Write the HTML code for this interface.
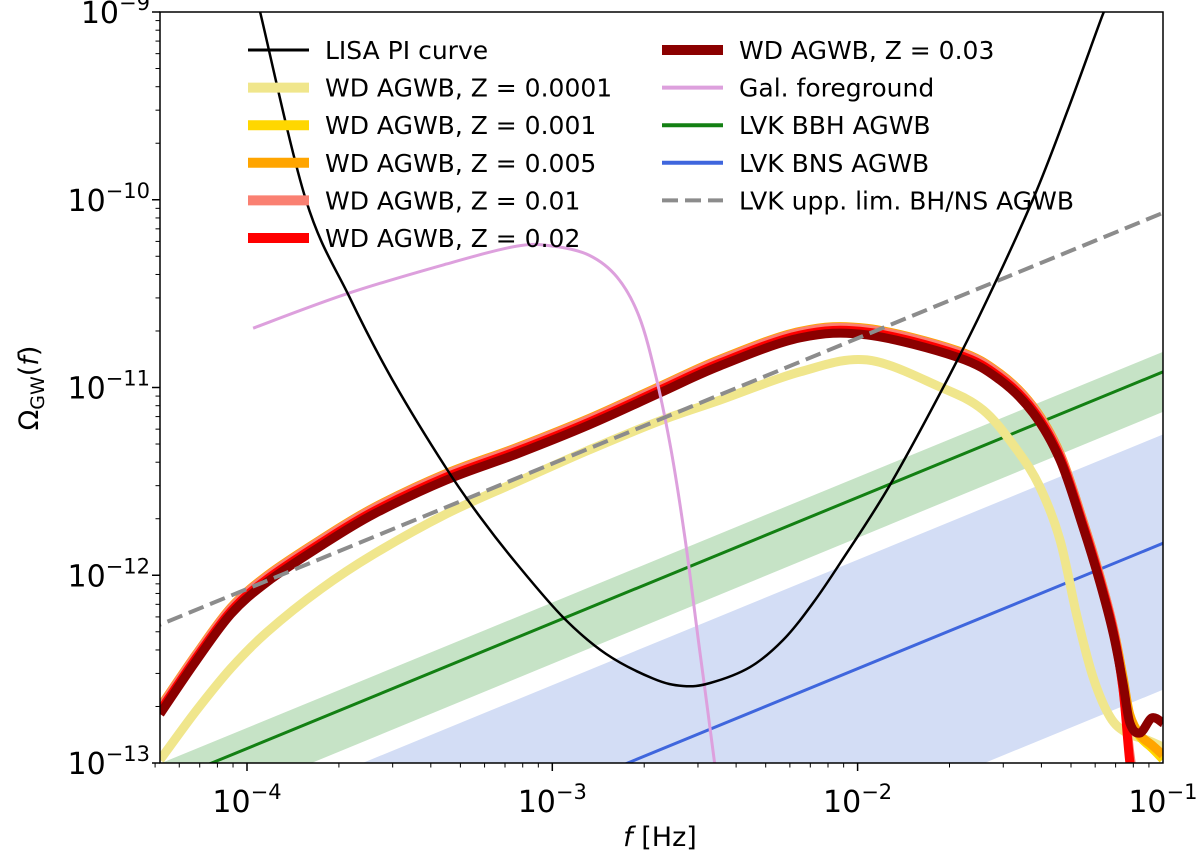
<!DOCTYPE html>
<html><head><meta charset="utf-8"><style>
html,body{margin:0;background:#fff;overflow:hidden;width:1200px;height:858px;}
svg{display:block;}
svg text{font-family:"DejaVu Sans","Liberation Sans",sans-serif;}
</style></head><body>
<svg id="chart" width="1200" height="858" viewBox="0 0 1200 858" xmlns="http://www.w3.org/2000/svg" overflow="hidden">
<defs><clipPath id="clip"><rect x="160" y="12" width="1003" height="751"/></clipPath></defs>
<g id="bands" clip-path="url(#clip)"></g>
<g id="series" clip-path="url(#clip)"></g>
<g id="axes"></g>
<g id="legend"></g>
</svg>
<script>
// data (log10 values)
const wdF = [-4.285,-4.167,-4.052,-3.934,-3.758,-3.584,-3.348,-3.116,-2.88,-2.648,-2.451,-2.189,-1.969,-1.674,-1.534,-1.425,-1.337,-1.262,-1.206,-1.163,-1.131,-1.108,-1.075,-1.036,-1.0];
const wdZ003 = [-12.739,-12.457,-12.206,-12.036,-11.844,-11.674,-11.493,-11.354,-11.2,-11.029,-10.885,-10.736,-10.72,-10.838,-10.96,-11.136,-11.386,-11.743,-12.041,-12.308,-12.574,-12.787,-12.84,-12.76,-12.787];
const wdZ0005 = [-12.704,-12.422,-12.171,-12.001,-11.809,-11.639,-11.458,-11.319,-11.165,-10.994,-10.85,-10.701,-10.685,-10.803,-10.925,-11.101,-11.351,-11.708,-12.006,-12.273,-12.539,-12.744,-12.851,-12.904,-12.957];
const wdZ001 = [-12.714,-12.432,-12.181,-12.011,-11.819,-11.649,-11.468,-11.329,-11.175,-11.004,-10.86,-10.711,-10.695,-10.813,-10.935,-11.111,-11.361,-11.718,-12.016,-12.283,-12.549,-12.76,-12.86,-12.92,-12.98];
const wdZ01 = [-12.709,-12.427,-12.176,-12.006,-11.814,-11.644,-11.463,-11.324,-11.17,-10.999,-10.855,-10.706,-10.69,-10.808,-10.93,-11.106,-11.356,-11.713,-12.011,-12.278,-12.6,-12.95,-13.3,-13.6,-13.9];
const wdZ02 = [-12.724,-12.442,-12.191,-12.021,-11.829,-11.659,-11.478,-11.339,-11.185,-11.014,-10.87,-10.721,-10.705,-10.823,-10.945,-11.121,-11.371,-11.728,-12.026,-12.293,-12.6,-13.0,-13.4,-13.7,-14.0];
const wdF0001 = [-4.285,-4.167,-4.052,-3.934,-3.758,-3.584,-3.348,-3.116,-2.88,-2.648,-2.451,-2.189,-1.969,-1.73,-1.589,-1.478,-1.403,-1.337,-1.281,-1.229,-1.173,-1.118,-1.052,-1.0];
const wdZ0001 = [-12.984,-12.723,-12.494,-12.302,-12.073,-11.887,-11.674,-11.503,-11.333,-11.178,-11.067,-10.917,-10.853,-10.997,-11.12,-11.333,-11.53,-11.812,-12.222,-12.542,-12.755,-12.84,-12.877,-12.915];
const lisaF = [-3.957,-3.807,-3.666,-3.525,-3.348,-3.234,-3.116,-2.962,-2.824,-2.67,-2.572,-2.483,-2.352,-2.244,-2.146,-2.057,-1.894,-1.707,-1.576,-1.425,-1.314,-1.2,-1.186];
const lisaY = [-9.0,-10.001,-10.513,-10.955,-11.429,-11.695,-11.94,-12.228,-12.419,-12.55,-12.59,-12.574,-12.489,-12.345,-12.148,-11.935,-11.519,-10.96,-10.534,-9.996,-9.533,-9.027,-8.98];
const galF = [-3.98,-3.666,-3.348,-3.116,-2.998,-2.88,-2.788,-2.716,-2.66,-2.611,-2.565,-2.519,-2.47,-2.455];
const galY = [-10.684,-10.497,-10.343,-10.247,-10.247,-10.295,-10.412,-10.62,-10.945,-11.333,-11.807,-12.377,-12.98,-13.2];
const lineEnds = [-4.4,-1.0];
const uppLim = [-12.34,-10.07];
const bbh = [-13.19,-10.917];
const bbhLo = [-13.41,-11.13];
const bbhHi = [-13.08,-10.81];
const bns = [-14.1,-11.83];
const bnsLo = [-14.88,-12.61];
const bnsHi = [-13.52,-11.25];
const xTicks = [-4,-3,-2,-1];
const yTicks = [-13,-12,-11,-10,-9];
const legendLabels = ["LISA PI curve","WD AGWB, Z = 0.0001","WD AGWB, Z = 0.001","WD AGWB, Z = 0.005","WD AGWB, Z = 0.01","WD AGWB, Z = 0.02","WD AGWB, Z = 0.03","Gal. foreground","LVK BBH AGWB","LVK BNS AGWB","LVK upp. lim. BH/NS AGWB"];

const NS="http://www.w3.org/2000/svg";
const X=v=>247+(v+4)*305.3;
const Y=v=>12+(-9-v)*187.75;
function mk(tag,attrs,parent){const e=document.createElementNS(NS,tag);for(const k in attrs)e.setAttribute(k,attrs[k]);parent.appendChild(e);return e;}
const bands=document.getElementById('bands'),series=document.getElementById('series'),axes=document.getElementById('axes'),legend=document.getElementById('legend');
function band(lo,hi,color,name){const d=`M${X(lineEnds[0])},${Y(lo[0])}L${X(lineEnds[1])},${Y(lo[1])}L${X(lineEnds[1])},${Y(hi[1])}L${X(lineEnds[0])},${Y(hi[0])}Z`;
 const p=mk('path',{d:d,fill:color},bands);
 
 }
band(bbhLo,bbhHi,'#c6e3c6','bbh-band');
band(bnsLo,bnsHi,'#d3ddf5','bns-band');
function smooth(pts){if(pts.length<3)return pts.map((p,i)=>(i?'L':'M')+p[0].toFixed(1)+','+p[1].toFixed(1)).join('');
 let d='M'+pts[0][0].toFixed(1)+','+pts[0][1].toFixed(1);
 for(let i=0;i<pts.length-1;i++){const p0=pts[i-1]||pts[i],p1=pts[i],p2=pts[i+1],p3=pts[i+2]||p2;
  const c1=[p1[0]+(p2[0]-p0[0])/6,p1[1]+(p2[1]-p0[1])/6],c2=[p2[0]-(p3[0]-p1[0])/6,p2[1]-(p3[1]-p1[1])/6];
  d+=`C${c1[0].toFixed(1)},${c1[1].toFixed(1)} ${c2[0].toFixed(1)},${c2[1].toFixed(1)} ${p2[0].toFixed(1)},${p2[1].toFixed(1)}`;}
 return d;}
function line(fs,ys,color,w,name,dash){const d=smooth(fs.map((f,i)=>[X(f),Y(ys[i])]));
 const p=mk('path',{d:d,fill:'none',stroke:color,'stroke-width':w,'stroke-linejoin':'round'},series);
 if(dash)p.setAttribute('stroke-dasharray',dash);
 
 }
line(lineEnds,bbh,'#138013',3,'bbh-line');
line(lineEnds,bns,'#3f66dd',3,'bns-line');
line(wdF0001,wdZ0001,'#f0e68c',9,'wd-z0001');
line(wdF,wdZ001,'#ffd700',9,'wd-z001');
line(wdF,wdZ0005,'#ffa500',9,'wd-z0005');
line(wdF,wdZ01,'#fa8072',9,'wd-z001b');
line(wdF,wdZ02,'#ff0000',9,'wd-z002');
line(wdF,wdZ003,'#8b0000',9,'wd-z003');
line(galF,galY,'#dda0dd',3,'gal-foreground');
line(lineEnds,uppLim,'#8c8c8c',4,'lvk-upper-limit','16,7');
line(lisaF,lisaY,'#000',2.5,'lisa-pi-curve');
// axes
const fr=mk('rect',{x:160,y:12,width:1003,height:751,fill:'none',stroke:'#000','stroke-width':1.5},axes);


for(let dcd=-5;dcd<=-1;dcd++){for(let m=1;m<10;m++){const v=dcd+Math.log10(m);if(v<-4.302||v>-1.0001)continue;const x=X(v);mk('line',{x1:x,x2:x,y1:763,y2:763+(m==1?8:4.5),stroke:'#000','stroke-width':m==1?1.5:1},axes);}}
for(let dcd=-14;dcd<=-9;dcd++){for(let m=1;m<10;m++){const v=dcd+Math.log10(m);if(v<-13.0001||v>-8.999)continue;const y=Y(v);mk('line',{x1:160,x2:160-(m==1?8:4.5),y1:y,y2:y,stroke:'#000','stroke-width':m==1?1.5:1},axes);}}
xTicks.forEach(t=>{const tx=mk('text',{x:X(t),y:812,'font-size':30,'text-anchor':'middle'},axes);tx.innerHTML=`10<tspan dy="-13" font-size="21">−${-t}</tspan>`;
 
 });
yTicks.forEach(t=>{const tx=mk('text',{x:150,y:Y(t)+11,'font-size':30,'text-anchor':'end'},axes);tx.innerHTML=`10<tspan dy="-13" font-size="21">−${-t}</tspan>`;
 
 });
const xl=mk('text',{x:660,y:846,'font-size':27,'text-anchor':'middle'},axes);xl.innerHTML='<tspan font-style="italic">f</tspan> [Hz]';


const yl=mk('text',{x:0,y:0,'font-size':27,'text-anchor':'middle',transform:'translate(38,388) rotate(-90)'},axes);yl.innerHTML='Ω<tspan font-size="19" dy="6">GW</tspan><tspan dy="-6">(</tspan><tspan font-style="italic">f</tspan>)';


// legend
const lstyle=[['#000',3],['#f0e68c',10],['#ffd700',10],['#ffa500',10],['#fa8072',10],['#ff0000',10],['#8b0000',10],['#dda0dd',4],['#138013',4],['#3f66dd',4],['#8c8c8c',4,'16,7']];
legendLabels.forEach((lab,i)=>{const col=i<6?0:1,row=i<6?i:i-6;const x0=col?662:248,y=50+row*37.6;
 const g=mk('g',{},legend);
 
 
 const ln=mk('line',{x1:x0,x2:x0+61,y1:y,y2:y,stroke:lstyle[i][0],'stroke-width':lstyle[i][1]},g);
 if(lstyle[i][2])ln.setAttribute('stroke-dasharray',lstyle[i][2]);
 const t=mk('text',{x:x0+77,y:y+9,'font-size':25},g);t.textContent=lab;});
</script>
</body></html>
